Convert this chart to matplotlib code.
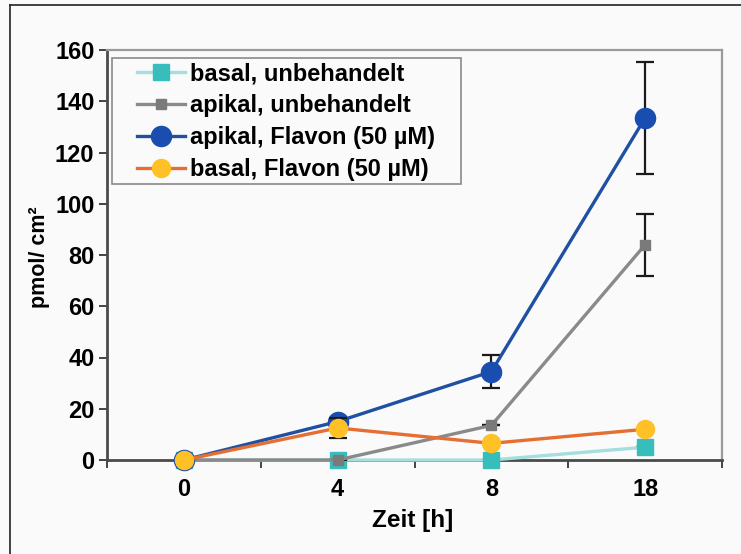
import matplotlib
matplotlib.use("Agg")
import matplotlib.pyplot as plt
from matplotlib.lines import Line2D
from matplotlib.patches import Rectangle

plt.rcParams['font.family'] = ['Liberation Sans', 'DejaVu Sans']
plt.rcParams['font.weight'] = 'bold'

# Data
zeit_labels = ["0", "4", "8", "18"]
basal_unbeh = [0, 0, 0, 5]
apikal_unbeh = [0, 0, 13.5, 84]
apikal_flavon = [0, 15, 34.5, 133.5]
basal_flavon = [0, 12.5, 6.5, 12]

err_basal_unbeh = [0, 0, 0, 0]
err_apikal_unbeh = [0, 0, 0, 12]
err_apikal_flavon = [0, 0, 6.5, 22]
err_basal_flavon = [0, 4, 0, 0]

legend_labels = ["basal, unbehandelt", "apikal, unbehandelt",
                 "apikal, Flavon (50 µM)", "basal, Flavon (50 µM)"]

W, H = 741, 554
fig = plt.figure(figsize=(W / 100, H / 100), dpi=100)
bg = '#FAFAFA'
fig.patch.set_facecolor(bg)


def fx(px):
    return px / W


def fy(py):
    return 1 - py / H


# outer frame (left and top edges)
fig.add_artist(Line2D([fx(10), fx(10)], [0, fy(5)], transform=fig.transFigure,
                      color='#222222', lw=1.2))
fig.add_artist(Line2D([fx(10), 1], [fy(5), fy(5)], transform=fig.transFigure,
                      color='#222222', lw=1.2))

ax = fig.add_axes([fx(107), fy(460), fx(722) - fx(107), fy(50) - fy(460)])
ax.set_facecolor(bg)

x = list(range(len(zeit_labels)))

series = [
    (basal_unbeh, err_basal_unbeh, '#A5DEDE', '#38BDBD', 's', 11.5),
    (apikal_unbeh, err_apikal_unbeh, '#8A8A8A', '#7A7A7A', 's', 7),
    (apikal_flavon, err_apikal_flavon, '#2050A2', '#1A4DB0', 'o', 14.5),
    (basal_flavon, err_basal_flavon, '#E56E32', '#FFC125', 'o', 13),
]

handles = []
for i, (vals, errs, lc, mc, mk, ms) in enumerate(series):
    ax.errorbar(x, vals, yerr=errs, fmt='none',
                ecolor='#1a1a1a', elinewidth=1.6, capsize=6.5, capthick=1.6,
                zorder=2 + i * 2)
    ln, = ax.plot(x, vals, color=lc, lw=2.4, marker=mk, markersize=ms,
                  markerfacecolor=mc, markeredgecolor=mc, zorder=3 + i * 2,
                  clip_on=False)
    handles.append(ln)

ax.set_xlim(-0.5, 3.5)
ax.set_ylim(0, 160)
ax.set_yticks(range(0, 161, 20))
ax.set_xticks(x)
ax.set_xticklabels(zeit_labels)
ax.set_xticks([-0.5, 0.5, 1.5, 2.5, 3.5], minor=True)
ax.tick_params(axis='x', which='major', length=0, pad=13, labelsize=17)
ax.tick_params(axis='x', which='minor', length=6, width=1.4, direction='out',
               color='#444444')
ax.tick_params(axis='y', which='major', length=6, width=1.4, direction='out',
               color='#444444', pad=3, labelsize=17)

for s in ['left', 'bottom']:
    ax.spines[s].set_color('#4a4a4a')
    ax.spines[s].set_linewidth(2)
for s in ['top', 'right']:
    ax.spines[s].set_color('#9a9a9a')
    ax.spines[s].set_linewidth(1.6)

fig.text(fx(39), fy(257), "pmol/ cm²", rotation=90, ha='center', va='center',
         fontsize=15.5, fontweight='bold')
fig.text(fx(413), fy(521), "Zeit [h]", ha='center', va='center',
         fontsize=17.5, fontweight='bold')

# legend box in figure pixels, entries placed inside it
ax.add_patch(Rectangle((fx(112), fy(184)), fx(461) - fx(112), fy(58) - fy(184),
                       transform=fig.transFigure, facecolor=bg, clip_on=False,
                       edgecolor='#8a8a8a', lw=1.2, zorder=19))
leg = ax.legend(handles, legend_labels, loc='upper left',
                bbox_to_anchor=(fx(137), fy(62)), bbox_transform=fig.transFigure,
                borderaxespad=0, frameon=False,
                handlelength=2.05, handletextpad=0.2, labelspacing=0.38,
                borderpad=0, prop={'weight': 'bold', 'size': 17})
leg.set_zorder(20)

fig.savefig("out.png", dpi=100, facecolor=fig.get_facecolor())
